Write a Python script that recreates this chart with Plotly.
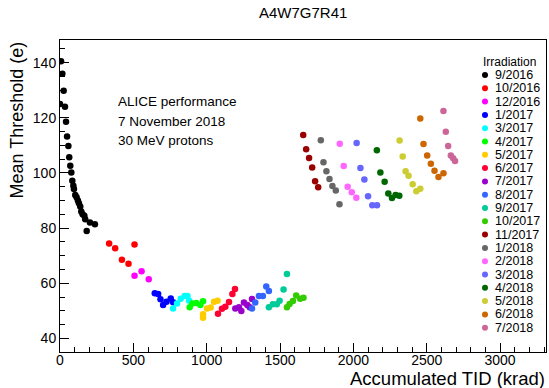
import plotly.graph_objects as go

# ---------------- data ----------------
labels = ["9/2016", "10/2016", "12/2016", "1/2017", "3/2017", "4/2017", "5/2017",
          "6/2017", "7/2017", "8/2017", "9/2017", "10/2017", "11/2017", "1/2018",
          "2/2018", "3/2018", "4/2018", "5/2018", "6/2018", "7/2018"]
colors = ["#000000", "#ff0000", "#ff00ff", "#0000ff", "#00ffff", "#00ff00", "#ffcc00",
          "#ff0033", "#9900cc", "#3366ff", "#00cc99", "#33cc00", "#990000", "#666666",
          "#ff66ff", "#6666ff", "#006600", "#cccc33", "#cc6600", "#cc6699"]

tid_0916 = [7, 16, 25, 0, 34, 41, 48, 57, 63, 70, 77, 84, 91, 95, 104, 113, 122, 129, 138, 145, 154, 166, 172, 182, 204, 238]
thr_0916 = [140.5, 136, 129.8, 125, 124, 118.6, 113.2, 109.8, 105.7, 102.6, 100.2, 97.2, 95.4, 94.2, 92, 91.2, 90, 89, 87.8, 86, 85, 84.5, 83.2, 79, 82, 81.4]
tid_1016 = [335, 376, 422, 467, 508]
thr_1016 = [74.4, 72.7, 68.5, 67.1, 74.1]
tid_1216 = [508, 556, 605]
thr_1216 = [62.7, 64.4, 61.5]
tid_0117 = [646, 669, 685, 703, 726, 755, 771]
thr_0117 = [56.4, 56.1, 54.2, 52.1, 53.3, 54.5, 53.1]
tid_0317 = [771, 798, 823, 850, 869, 880]
thr_0317 = [50.9, 52.7, 54.4, 55.4, 55.4, 53.7]
tid_0417 = [884, 902, 929, 957, 975]
thr_0417 = [51.3, 52.7, 52.9, 52.1, 53.5]
tid_0517 = [975, 975, 1002, 1027, 1050, 1074]
thr_0517 = [48.8, 47.5, 50.9, 51.2, 53.3, 53.7]
tid_0617 = [1077, 1104, 1127, 1152, 1175, 1193]
thr_0617 = [49, 50.8, 51.5, 53.2, 56.1, 57.9]
tid_0717 = [1195, 1220, 1236, 1254, 1277, 1293, 1309]
thr_0717 = [50.9, 51.3, 50, 53, 52.1, 51.3, 54.3]
tid_0817 = [1309, 1331, 1356, 1383, 1406, 1424]
thr_0817 = [50.9, 53, 55.4, 55.4, 58.8, 57.2]
tid_0917 = [1424, 1451, 1478, 1497, 1524, 1547]
thr_0917 = [51.3, 52.4, 52.4, 53.7, 57.8, 63.4]
tid_1017 = [1547, 1565, 1588, 1610, 1637, 1660]
thr_1017 = [51.3, 52.5, 53.6, 55.6, 54.4, 54.8]
tid_1117 = [1658, 1678, 1698, 1719, 1739, 1760]
thr_1117 = [113.8, 108.6, 105.4, 102, 97, 94.8]
tid_0118 = [1778, 1796, 1816, 1837, 1857, 1880, 1905]
thr_0118 = [111.9, 103.9, 100.6, 97.8, 95.3, 93.6, 88.7]
tid_0218 = [1907, 1934, 1961, 1989, 2020]
thr_0218 = [110.6, 102.5, 95, 93, 91]
tid_0318 = [2022, 2048, 2075, 2100, 2129, 2161]
thr_0318 = [110.9, 101.8, 97.6, 91.6, 88.3, 88.3]
tid_0418 = [2160, 2184, 2213, 2238, 2263, 2288, 2313]
thr_0418 = [108.2, 100.2, 96.8, 92.6, 90.9, 92, 91.7]
tid_0518 = [2315, 2336, 2356, 2376, 2404, 2429, 2456]
thr_0518 = [111.8, 106, 100.6, 99, 95.9, 93.4, 94.3]
tid_0618 = [2456, 2478, 2503, 2528, 2553, 2580, 2614]
thr_0618 = [119.7, 110.5, 106.3, 103.3, 100.8, 98.5, 99.9]
tid_0718 = [2614, 2630, 2646, 2664, 2680, 2693]
thr_0718 = [122.5, 114.9, 109.8, 106.3, 105.3, 104.3]

tid_series = [tid_0916, tid_1016, tid_1216, tid_0117, tid_0317, tid_0417, tid_0517,
              tid_0617, tid_0717, tid_0817, tid_0917, tid_1017, tid_1117, tid_0118,
              tid_0218, tid_0318, tid_0418, tid_0518, tid_0618, tid_0718]
thr_series = [thr_0916, thr_1016, thr_1216, thr_0117, thr_0317, thr_0417, thr_0517,
              thr_0617, thr_0717, thr_0817, thr_0917, thr_1017, thr_1117, thr_0118,
              thr_0218, thr_0318, thr_0418, thr_0518, thr_0618, thr_0718]

x_ticks = [0, 500, 1000, 1500, 2000, 2500, 3000]
y_ticks = [40, 60, 80, 100, 120, 140]

# ---------------- layout geometry ----------------
W, H = 549, 388
L, R, T, B = 60, 546, 40, 352
FONT = "Liberation Sans, Arial, Helvetica, sans-serif"


def px(xp):
    return (xp - L) / (R - L)


def py(yp):
    return (B - yp) / (B - T)


fig = go.Figure()
for lab, col, xs, ys in zip(labels, colors, tid_series, thr_series):
    fig.add_trace(go.Scatter(x=xs, y=ys, mode="markers", name=lab,
                             marker=dict(color=col, size=6.5, line=dict(width=0)),
                             showlegend=False))

# custom compact legend (markers on pixel-unit overlay axes, text as annotations)
leg_x_marker = 485
leg_y0 = 75
leg_dy = 13.3
leg_ys = [leg_y0 + i * leg_dy for i in range(len(labels))]
fig.add_trace(go.Scatter(x=[leg_x_marker] * len(labels), y=leg_ys, mode="markers",
                         marker=dict(color=colors, size=6, line=dict(width=0)),
                         xaxis="x2", yaxis="y2", showlegend=False, hoverinfo="skip",
                         cliponaxis=False))

annotations = []
for lab, yy in zip(labels, leg_ys):
    annotations.append(dict(x=px(493), y=py(yy), xref="paper", yref="paper",
                            text=lab, showarrow=False, xanchor="left", yanchor="middle",
                            font=dict(family=FONT, size=12.5, color="black")))
annotations.append(dict(x=px(481), y=py(62), xref="paper", yref="paper",
                        text="Irradiation", showarrow=False, xanchor="left", yanchor="middle",
                        font=dict(family=FONT, size=12, color="black")))
for txt, yy in zip(["ALICE performance", "7 November 2018", "30 MeV protons"], [101.7, 121.2, 140.8]):
    annotations.append(dict(x=px(116), y=py(yy), xref="paper", yref="paper",
                            text=txt, showarrow=False, xanchor="left", yanchor="middle",
                            font=dict(family=FONT, size=13.5, color="black")))
# axis titles (ROOT style: aligned to axis end)
annotations.append(dict(x=px(547), y=py(378), xref="paper", yref="paper",
                        text="Accumulated TID (krad)", showarrow=False,
                        xanchor="right", yanchor="middle",
                        font=dict(family=FONT, size=18.5, color="black")))
annotations.append(dict(x=px(16), y=py(40), xref="paper", yref="paper",
                        text="Mean Threshold (e)", showarrow=False, textangle=-90,
                        xanchor="center", yanchor="top",
                        font=dict(family=FONT, size=18, color="black")))
annotations.append(dict(x=0.5, y=py(12), xref="paper", yref="paper",
                        text="A4W7G7R41", showarrow=False, xanchor="center", yanchor="middle",
                        font=dict(family=FONT, size=15, color="black")))

fig.update_layout(
    width=W, height=H,
    margin=dict(l=L, r=W - R, t=T, b=H - B, pad=0),
    paper_bgcolor="white", plot_bgcolor="white",
    font=dict(family=FONT, size=14, color="black"),
    showlegend=False,
    annotations=annotations,
    xaxis=dict(range=[0, 3313], tickvals=x_ticks, ticks="inside", ticklen=9,
               tickcolor="black", showline=True, linecolor="black", linewidth=1,
               mirror=True, showgrid=False, zeroline=False, ticklabelstandoff=-5,
               tickfont=dict(family=FONT, size=14),
               minor=dict(dtick=100, tick0=0, ticks="inside", ticklen=5, tickcolor="black",
                          showgrid=False)),
    yaxis=dict(range=[35.1, 148.2], tickvals=y_ticks, ticks="inside", ticklen=9,
               tickcolor="black", showline=True, linecolor="black", linewidth=1,
               mirror=True, showgrid=False, zeroline=False,
               tickfont=dict(family=FONT, size=14),
               minor=dict(dtick=5, tick0=0, ticks="inside", ticklen=5, tickcolor="black",
                          showgrid=False)),
    xaxis2=dict(overlaying="x", range=[L, R], visible=False, fixedrange=True),
    yaxis2=dict(overlaying="y", range=[B, T], visible=False, fixedrange=True),
)

fig.write_html("out.html", config={"displayModeBar": False},
               post_script="document.body.style.margin='0';document.body.style.padding='0';")
